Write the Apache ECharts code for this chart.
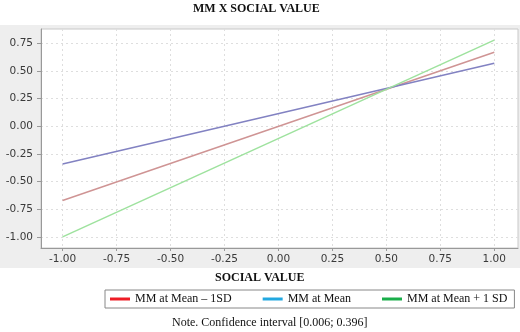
<!DOCTYPE html>
<html>
<head>
<meta charset="utf-8">
<script src="https://cdn.jsdelivr.net/npm/echarts@6/dist/echarts.min.js"></script>
<style>
  html, body { margin: 0; padding: 0; background: #fff; }
  #chart { width: 520px; height: 332px; }
</style>
</head>
<body>
<div id="chart"></div>
<script>
// 数据
const xTicks = [-1, -0.75, -0.5, -0.25, 0, 0.25, 0.5, 0.75, 1];
const yTicks = [-1, -0.75, -0.5, -0.25, 0, 0.25, 0.5, 0.75];
const xValues = [-1, 1];
const seriesNames = ['MM at Mean \u2013 1SD', 'MM at Mean', 'MM at Mean + 1 SD'];
const lowSD = [-0.67, 0.67];
const atMean = [-0.34, 0.57];
const highSD = [-1.0, 0.78];

// 线条颜色 / 图例颜色（图例和线条颜色不一致）
const lineColors = ['#cf9494', '#8282c2', '#9ee29e'];
const legendColors = ['#ee1c25', '#22a8e0', '#1aae4a'];

const toPoints = (vals) => xValues.map((x, i) => [x, vals[i]]);
const allValues = [lowSD, atMean, highSD];

const chart = echarts.init(document.getElementById('chart'));

const axisLabelStyle = {
  color: '#3a3a3a',
  fontFamily: 'DejaVu Sans',
  fontSize: 10.5,
  formatter: (v) => v.toFixed(2),
};

chart.setOption({
  backgroundColor: '#fff',
  animation: false,
  title: [
    {
      text: 'MM X SOCIAL VALUE',
      left: 193,
      top: 3,
      padding: 0,
      textStyle: { fontFamily: 'Liberation Serif', fontSize: 12, fontWeight: 'bold', color: '#111' },
    },
    {
      text: 'SOCIAL VALUE',
      left: 215,
      top: 272,
      padding: 0,
      textStyle: { fontFamily: 'Liberation Serif', fontSize: 12, fontWeight: 'bold', color: '#111' },
    },
    {
      text: 'Note. Confidence interval [0.006; 0.396]',
      left: 172,
      top: 317,
      padding: 0,
      textStyle: { fontFamily: 'Liberation Serif', fontSize: 12, fontWeight: 'normal', color: '#111' },
    },
  ],
  graphic: [
    {
      type: 'rect',
      z: -10,
      silent: true,
      shape: { x: 0, y: 25, width: 520, height: 243 },
      style: { fill: '#eeeeee' },
    },
  ],
  legend: {
    left: 105,
    top: 290,
    padding: [3, 7, 3, 5],
    itemGap: 31,
    itemWidth: 20,
    itemHeight: 3,
    icon: 'rect',
    borderColor: '#888',
    borderWidth: 1,
    backgroundColor: '#fff',
    textStyle: { fontFamily: 'Liberation Serif', fontSize: 12, color: '#111' },
    data: seriesNames.map((name, i) => ({
      name,
      itemStyle: { color: legendColors[i] },
      lineStyle: { color: legendColors[i] },
    })),
  },
  grid: {
    left: 41,
    right: 2,
    top: 29,
    bottom: 84,
    show: true,
    backgroundColor: '#fff',
    borderColor: '#c8c8c8',
    borderWidth: 1,
  },
  xAxis: {
    type: 'value',
    min: -1.1,
    max: 1.11,
    axisLine: { onZero: false, lineStyle: { color: '#999' } },
    axisTick: { show: true, length: 3, customValues: xTicks, lineStyle: { color: '#999' } },
    axisLabel: Object.assign({ margin: 6, customValues: xTicks }, axisLabelStyle),
    splitLine: { show: true, lineStyle: { color: '#dedede', type: [2, 3] } },
  },
  yAxis: {
    type: 'value',
    min: -1.1,
    max: 0.88,
    axisLine: { show: true, onZero: false, lineStyle: { color: '#999' } },
    axisTick: { show: true, length: 4, customValues: yTicks, lineStyle: { color: '#999' } },
    axisLabel: Object.assign({ margin: 8, customValues: yTicks }, axisLabelStyle),
    splitLine: { show: true, lineStyle: { color: '#dedede', type: [2, 3] } },
  },
  series: seriesNames.map((name, i) => ({
    name,
    type: 'line',
    symbol: 'none',
    data: toPoints(allValues[i]),
    itemStyle: { color: lineColors[i] },
    lineStyle: { color: lineColors[i], width: 1.5 },
  })),
});
</script>
</body>
</html>
